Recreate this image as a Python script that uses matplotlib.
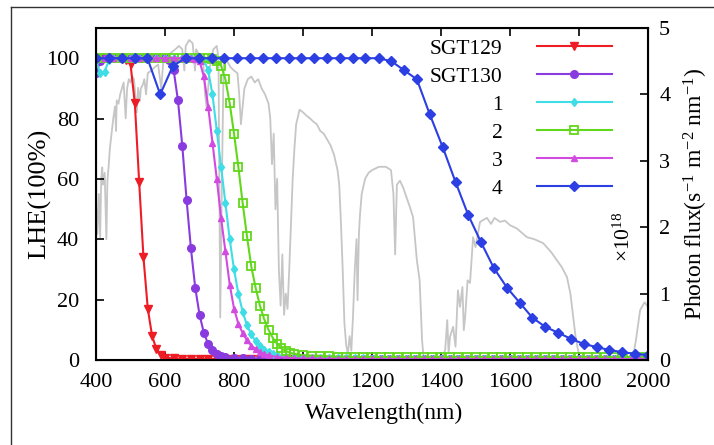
import numpy as np
import matplotlib
matplotlib.use("Agg")
import matplotlib.pyplot as plt
from matplotlib.lines import Line2D

plt.rcParams["font.family"] = ["Liberation Serif", "DejaVu Serif"]
plt.rcParams["mathtext.fontset"] = "custom"
plt.rcParams["mathtext.rm"] = "Liberation Serif"
plt.rcParams["mathtext.it"] = "Liberation Serif:italic"

# ---- data (wavelength in nm, LHE in %) ----
sgt129_x = [400, 425, 450, 475, 487.5, 500, 512.5, 525, 537.5, 550, 562.5, 575, 587.5, 600,
            625, 650, 675, 700, 725, 750, 775, 800, 825, 850, 875, 900, 925, 950, 975,
            1000, 1025, 1050]
sgt129_y = [100, 100, 100, 100, 99.5, 98, 85, 59, 34, 17, 8, 3.6, 1.5, 0.8,
            0.5, 0.4, 0.35, 0.3, 0.3, 0.3, 0.3, 0.3, 0.3, 0.3, 0.3, 0.3, 0.3, 0.3, 0.3,
            0.3, 0.3, 0.3]

sgt130_x = [400, 412.5, 425, 450, 475, 500, 525, 550, 575, 600, 612.5, 625, 637.5, 650,
            662.5, 675, 687.5, 700, 712.5, 725, 737.5, 750, 762.5, 775,
            800, 825, 850, 875, 900, 925, 950, 975, 1000, 1025, 1050, 1075, 1100, 1125,
            1150, 1175, 1200, 1225, 1250, 1275, 1300, 1325, 1350, 1375, 1400, 1425, 1450,
            1475, 1500, 1525, 1550, 1575, 1600, 1625, 1650, 1675, 1700, 1725, 1750, 1775,
            1800, 1825, 1850, 1875, 1900, 1925, 1950, 1975, 2000]
sgt130_y = [95, 99, 100, 100, 100, 100, 100, 100, 100, 100, 99.5, 96, 86, 71,
            53, 37, 24, 15, 9, 5.3, 3.3, 2, 1.3, 0.9,
            0.6, 0.5, 0.45, 0.4, 0.4, 0.35, 0.35, 0.3, 0.3, 0.3, 0.3, 0.3, 0.3, 0.3,
            0.3, 0.3, 0.3, 0.3, 0.3, 0.3, 0.3, 0.3, 0.3, 0.3, 0.3, 0.3, 0.3,
            0.3, 0.3, 0.3, 0.3, 0.3, 0.3, 0.3, 0.3, 0.3, 0.3, 0.3, 0.3, 0.3,
            0.3, 0.3, 0.3, 0.3, 0.3, 0.3, 0.3, 0.3, 0.3]

c1_x = [400, 412.5, 425, 437.5, 450, 475, 500, 525, 550, 575, 600, 625, 650, 675, 700,
        712.5, 725, 737.5, 750, 762.5, 775, 787.5, 800, 812.5, 825, 837.5, 850, 862.5,
        875, 887.5, 900, 912.5, 925,
        950, 975, 1000, 1025, 1050, 1075, 1100, 1125, 1150, 1175, 1200, 1225, 1250,
        1275, 1300, 1325, 1350, 1375, 1400, 1425, 1450, 1475, 1500, 1525, 1550, 1575,
        1600, 1625, 1650, 1675, 1700, 1725, 1750, 1775, 1800, 1825, 1850, 1875, 1900,
        1925, 1950, 1975, 2000]
c1_y = [99, 95, 95.5, 99.5, 100, 100, 100, 100, 100, 100, 100, 100, 100, 100, 100,
        99.5, 96, 88, 76, 64, 52, 40, 30, 22, 16, 11.5, 8.5, 6.2,
        4.5, 3.3, 2.5, 1.9, 1.5,
        1.1, 0.9, 0.8, 0.7, 0.6, 0.6, 0.5, 0.5, 0.5, 0.5, 0.4, 0.4, 0.4,
        0.4, 0.4, 0.4, 0.4, 0.4, 0.4, 0.4, 0.4, 0.4, 0.4, 0.4, 0.4, 0.4,
        0.4, 0.4, 0.4, 0.4, 0.4, 0.4, 0.4, 0.4, 0.4, 0.4, 0.4, 0.4, 0.4,
        0.4, 0.4, 0.4, 0.4]

c2_x = [400, 425, 450, 475, 500, 525, 550, 575, 600, 625, 650, 675, 700, 725,
        737.5, 750, 762.5, 775, 787.5, 800, 812.5, 825, 837.5, 850, 862.5, 875, 887.5,
        900, 912.5, 925, 937.5, 950, 962.5, 975,
        1000, 1025, 1050, 1075, 1100, 1125, 1150, 1175, 1200, 1225, 1250, 1275, 1300,
        1325, 1350, 1375, 1400, 1425, 1450, 1475, 1500, 1525, 1550, 1575, 1600, 1625,
        1650, 1675, 1700, 1725, 1750, 1775, 1800, 1825, 1850, 1875, 1900, 1925, 1950,
        1975, 2000]
c2_y = [100, 100, 100, 100, 100, 100, 100, 100, 100, 100, 100, 100, 100, 100,
        99.8, 99, 97.5, 93, 85, 75, 64, 52, 41, 31, 24, 18, 13.5,
        10, 7.3, 5.3, 3.9, 3, 2.4, 2,
        1.6, 1.4, 1.3, 1.2, 1.1, 1.1, 1.0, 1.0, 1.0, 1.0, 1.0, 1.0, 1.0,
        1.0, 1.0, 1.0, 1.0, 1.0, 1.0, 1.0, 1.0, 1.0, 1.0, 1.0, 1.0, 1.0,
        1.0, 1.0, 1.0, 1.0, 1.0, 1.0, 1.0, 1.0, 1.0, 1.0, 1.0, 1.0, 1.0,
        1.0, 1.0]

c3_x = [400, 425, 450, 475, 500, 525, 550, 575, 600, 625, 650, 675, 687.5, 700, 712.5,
        725, 737.5, 750, 762.5, 775, 787.5, 800, 812.5, 825, 837.5, 850, 862.5, 875,
        887.5, 900,
        925, 950, 975, 1000, 1025, 1050, 1075, 1100, 1125, 1150, 1175, 1200, 1225,
        1250, 1275, 1300, 1325, 1350, 1375, 1400, 1425, 1450, 1475, 1500, 1525, 1550,
        1575, 1600, 1625, 1650, 1675, 1700, 1725, 1750, 1775, 1800, 1825, 1850, 1875,
        1900, 1925, 1950, 1975, 2000]
c3_y = [100, 100, 100, 100, 100, 100, 100, 100, 100, 100, 100, 100, 99.8, 99, 94,
        84, 72, 60, 47, 36, 25, 17, 12, 9, 6.5, 4.8, 3.6, 2.7,
        2, 1.5,
        1.0, 0.8, 0.6, 0.5, 0.5, 0.4, 0.4, 0.4, 0.3, 0.3, 0.3, 0.3, 0.3,
        0.3, 0.3, 0.3, 0.3, 0.3, 0.3, 0.3, 0.3, 0.3, 0.3, 0.3, 0.3, 0.3,
        0.3, 0.3, 0.3, 0.3, 0.3, 0.3, 0.3, 0.3, 0.3, 0.3, 0.3, 0.3, 0.3,
        0.3, 0.3, 0.3, 0.3, 0.3]

c4_x = [400, 437, 474, 512, 549, 586, 623, 660, 698, 735, 772, 809, 847, 884, 921,
        958, 995, 1033, 1070, 1107, 1144, 1181, 1219, 1256, 1293, 1330, 1367, 1405,
        1442, 1479, 1516, 1553, 1591, 1628, 1665, 1702, 1740, 1777, 1814, 1851, 1888,
        1926, 1963, 2000]
c4_y = [100, 100, 100, 100, 100, 88, 97.5, 100, 100, 100, 100, 100, 100, 100, 100,
        100, 100, 100, 100, 100, 100, 100, 100, 99, 96, 93, 81.5, 70.5,
        59, 48, 39, 30.5, 24, 19, 14, 11, 9, 7, 5.3, 4.3, 3.3,
        2.6, 2, 1.7]

# AM1.5 photon flux, x10^18 s^-1 m^-2 nm^-1 (right axis)
flux_x = [400, 404, 408, 412, 415, 418, 420, 425, 430, 433, 437, 440, 445, 450, 455, 458,
          460, 465, 470, 475, 480, 486, 490, 495, 500, 505, 510, 518, 522, 527, 530, 535,
          540, 545, 550, 560, 570, 580, 589, 595, 600, 610, 620, 630, 640, 650, 656, 660,
          670, 680, 687, 690, 700, 710, 716, 720, 725, 730, 740, 750, 755, 760, 765, 770,
          780, 790, 800, 810, 815, 820, 825, 830, 840, 850, 860, 870, 880, 890, 900, 905,
          910, 915, 920, 925, 930, 935, 940, 945, 950, 955, 960, 965, 970, 975, 980, 990,
          1000, 1010, 1020, 1030, 1040, 1050, 1060, 1070, 1080, 1090, 1100, 1105, 1110,
          1115, 1120, 1125, 1130, 1135, 1140, 1145, 1150, 1155, 1158, 1162, 1165, 1170,
          1180, 1190, 1200, 1220, 1240, 1255, 1262, 1267, 1272, 1281, 1290, 1300, 1310,
          1319, 1330, 1338, 1345, 1350, 1380, 1400, 1412, 1418, 1422, 1426, 1435, 1442,
          1449, 1455, 1462, 1466, 1470, 1477, 1484, 1493, 1500, 1513, 1533, 1545, 1555,
          1571, 1585, 1600, 1620, 1649, 1670, 1696, 1720, 1736, 1750, 1765, 1775, 1783,
          1790, 1797, 1805, 1900, 1955, 1965, 1977, 1990, 2000]
flux_y = [2.36, 1.9, 2.5, 1.85, 2.73, 2.9, 2.64, 2.82, 1.82, 2.7, 2.95, 3.18, 3.41, 3.64,
          3.82, 3.45, 3.91, 3.86, 4.0, 4.09, 4.18, 3.64, 4.09, 4.23, 4.18, 4.27, 4.23, 3.73,
          4.1, 3.9, 4.09, 4.14, 4.23, 4.0, 4.32, 4.36, 4.41, 4.45, 4.09, 4.5, 4.55, 4.59,
          4.64, 4.68, 4.73, 4.68, 4.36, 4.73, 4.82, 4.77, 4.36, 4.68, 4.59, 4.55, 4.0, 3.82,
          4.09, 4.41, 4.68, 4.73, 4.55, 0.64, 2.73, 4.55, 4.5, 4.41, 4.36, 4.32, 4.0, 3.55,
          3.82, 4.09, 4.23, 4.27, 4.18, 4.23, 4.09, 4.0, 3.86, 3.64, 2.95, 3.41, 2.27, 2.73,
          1.36, 0.82, 1.59, 0.68, 1.0, 0.77, 1.36, 2.05, 2.73, 3.18, 3.55, 3.77,
          3.73, 3.68, 3.64, 3.59, 3.55, 3.45, 3.41, 3.32, 3.23, 3.09, 2.86, 2.64, 2.05,
          1.36, 0.55, 0.23, 0.09, 0.36, 0.14, 0.68, 1.36, 1.82, 0.9, 1.9, 2.18, 2.5,
          2.73, 2.82, 2.86, 2.91, 2.91, 2.86, 2.5, 1.59, 2.64, 2.7, 2.6, 2.45, 2.3,
          2.15, 1.5, 1.2, 0.3, 0.0, 0.0, 0.0, 0.15, 0.6, 0.1, 0.35, 0.5, 0.2,
          1.05, 0.8, 1.1, 0.45, 0.65, 1.2, 1.16, 1.85, 1.7, 2.08, 2.14, 2.05, 2.14,
          2.08, 2.1, 2.03, 1.98, 1.85, 1.82, 1.76, 1.62, 1.5, 1.4, 1.25, 1.0, 0.65,
          0.35, 0.15, 0.0, 0.0, 0.0, 0.3, 0.75, 0.87, 0.8]

series = [
    ("SGT129", sgt129_x, sgt129_y, "#ee1c25", "v", 6, "full"),
    ("SGT130", sgt130_x, sgt130_y, "#8a3be0", "o", 5.5, "full"),
    ("1", c1_x, c1_y, "#3fdde6", "d", 4.5, "full"),
    ("2", c2_x, c2_y, "#62d81c", "s", 6, "none"),
    ("3", c3_x, c3_y, "#d24be0", "^", 4.5, "full"),
    ("4", c4_x, c4_y, "#2b3fe3", "D", 5, "full"),
]

fig = plt.figure(figsize=(7.14, 4.45), dpi=100)
ax = fig.add_axes([0.1345, 0.191, 0.7731, 0.746])
ax2 = ax.twinx()
ax.set_zorder(ax2.get_zorder() + 1)
ax.patch.set_visible(False)

# solar spectrum behind the LHE curves
ax2.plot(flux_x, flux_y, color="#c6c6c6", lw=1.3)

for label, x, y, col, mk, ms, fill in series:
    kw = dict(color=col, marker=mk, ms=ms, lw=1.5, label=label)
    if fill == "none":
        kw.update(mfc="none", mew=1.3)
    else:
        kw.update(mec=col)
    ax.plot(x, y, **kw)

ax.set_xlim(400, 2000)
ax.set_ylim(0, 110)
ax2.set_ylim(0, 5)
ax.set_xticks(range(400, 2001, 200))
ax.set_yticks(range(0, 101, 20))
ax2.set_yticks(range(0, 6))

ax.tick_params(direction="in", top=True, right=False, length=6, width=1.2, labelsize=16)
ax.tick_params(axis="x", pad=9)
ax.tick_params(axis="y", pad=12)
ax2.tick_params(direction="in", length=6, width=1.2, labelsize=16, pad=8)
for sp in ax.spines.values():
    sp.set_linewidth(1.5)

ax.set_xlabel("Wavelength(nm)", fontsize=17)
ax.xaxis.set_label_coords(0.522, -0.13)
ax.set_ylabel("LHE(100%)", fontsize=19)
ax.yaxis.set_label_coords(-0.082, 0.5)
ax2.set_ylabel(r"Photon flux(s$^{-1}$ m$^{-2}$ nm$^{-1}$)", fontsize=17)
ax2.yaxis.set_label_coords(1.061, 0.5)
ax.text(0.957, 0.37, r"$\times$10$^{18}$", transform=ax.transAxes, rotation=90,
        ha="center", va="center", fontsize=15.5)

ax.legend(loc="upper right", bbox_to_anchor=(0.935, 0.968), frameon=False,
          markerfirst=False, fontsize=15.5, handlelength=3.5, handletextpad=1.6,
          labelspacing=0.37, borderaxespad=0, borderpad=0)

# page frame from the source document
fig.add_artist(Line2D([11 / 714, 1], [1 - 7 / 445] * 2, color="#333333", lw=1,
                      transform=fig.transFigure))
fig.add_artist(Line2D([11 / 714] * 2, [0, 1 - 7 / 445], color="#333333", lw=1,
                      transform=fig.transFigure))

fig.savefig("out.png", dpi=100)
